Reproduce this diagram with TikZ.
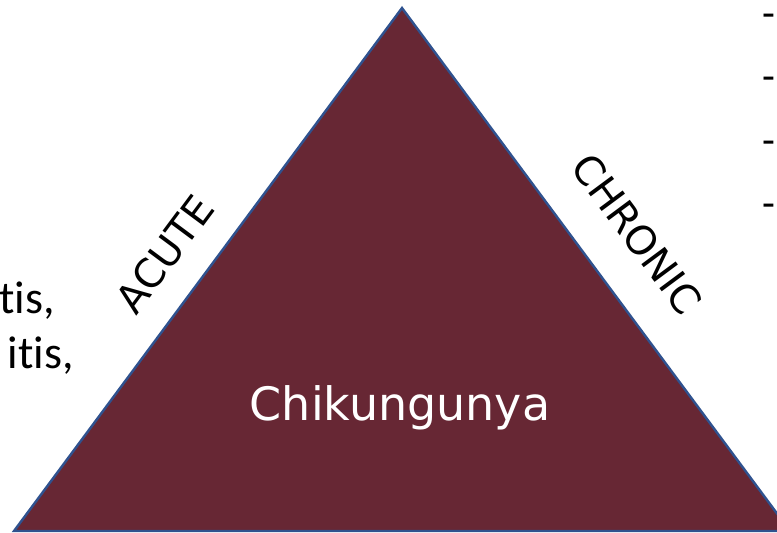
\documentclass[tikz,border=0pt]{standalone}
\usepackage{fontspec}
\setmainfont{DejaVu Sans}
\newfontfamily\calfont[Ligatures={NoCommon,NoRequired,NoContextual}]{Carlito}
\definecolor{trifill}{RGB}{103,39,52}
\definecolor{triedge}{RGB}{47,82,143}
\begin{document}
\begin{tikzpicture}[x=1pt,y=-1pt,
  sidelabel/.style={font=\fontsize{40}{44}\selectfont, inner sep=0pt},
  sidetext/.style={font=\calfont\fontsize{46}{50}\selectfont, inner sep=0pt, anchor=base east},
  dashtext/.style={font=\calfont\fontsize{42}{46}\selectfont, inner sep=0pt, anchor=base west}]
\useasboundingbox (0,0) rectangle (777,533);
\coordinate (apex) at (402,8);
\coordinate (bl) at (14,531);
\coordinate (br) at (790,531);
\filldraw[fill=trifill, draw=triedge, line width=2.4pt, line join=miter] (apex) -- (bl) -- (br) -- cycle;
\node[font=\fontsize{46}{50}\selectfont, text=white, inner sep=0pt, anchor=base] (name) at (400,420) {Chikungunya};
\node[sidelabel, rotate=53.4] (acute) at (165,254) {ACUTE};
\node[sidelabel, rotate=-53.4] (chronic) at (637,234) {CHRONIC};
\node[sidetext] (t1) at (55,313) {tis,};
\node[sidetext] (t2) at (74,368) {itis,};
\node[dashtext] (d1) at (762,27) {-};
\node[dashtext] (d2) at (762,90) {-};
\node[dashtext] (d3) at (762,154) {-};
\node[dashtext] (d4) at (762,217) {-};
\end{tikzpicture}
\end{document}
